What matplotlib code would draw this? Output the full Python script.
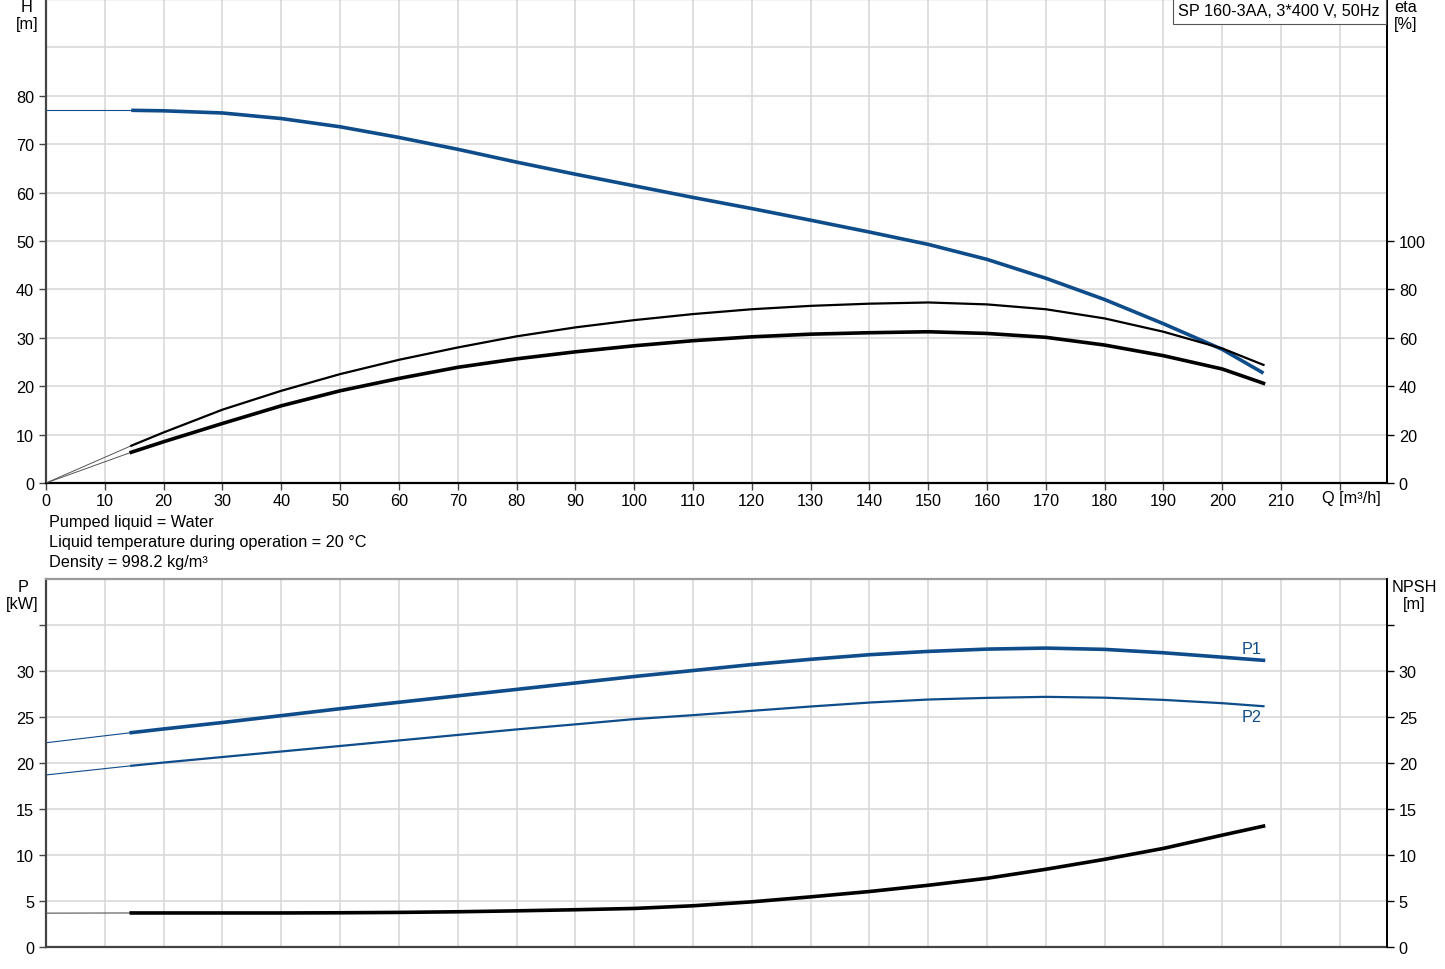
import matplotlib
matplotlib.use("Agg")
import matplotlib.pyplot as plt

plt.rcParams['font.family'] = ['Liberation Sans', 'DejaVu Sans']

# ---- data ----
q = [14.5, 20, 30, 40, 50, 60, 70, 80, 90, 100, 110, 120, 130, 140, 150, 160, 170, 180, 190, 200, 207]
head = [77.0, 76.9, 76.45, 75.3, 73.6, 71.4, 68.95, 66.3, 63.8, 61.4, 59.0, 56.7, 54.3, 51.85, 49.3, 46.2, 42.3, 37.9, 32.9, 27.6, 22.7]
eta_upper = [15.4, 20.9, 30.3, 38.1, 45.0, 50.9, 56.0, 60.6, 64.3, 67.3, 69.8, 71.8, 73.2, 74.1, 74.6, 73.8, 71.8, 68.0, 62.5, 55.6, 48.8]
eta_lower = [12.7, 17.05, 24.6, 31.9, 38.1, 43.2, 47.8, 51.3, 54.2, 56.7, 58.8, 60.4, 61.5, 62.1, 62.5, 61.8, 60.2, 57.0, 52.6, 47.1, 41.2]
p1 = [23.3, 23.7, 24.4, 25.15, 25.9, 26.6, 27.3, 28.0, 28.7, 29.4, 30.05, 30.7, 31.27, 31.77, 32.13, 32.38, 32.49, 32.35, 31.98, 31.5, 31.16]
p2 = [19.7, 20.05, 20.65, 21.25, 21.85, 22.45, 23.05, 23.65, 24.2, 24.77, 25.2, 25.67, 26.14, 26.57, 26.9, 27.08, 27.19, 27.1, 26.86, 26.5, 26.17]
npsh = [3.7, 3.7, 3.7, 3.7, 3.72, 3.76, 3.83, 3.93, 4.05, 4.19, 4.48, 4.91, 5.45, 6.03, 6.71, 7.47, 8.45, 9.53, 10.72, 12.16, 13.14]
ext_q = [0, 14.5]
head_ext = [77.0, 77.0]
eta_upper_ext = [0, 15.4]
eta_lower_ext = [0, 12.7]
p1_ext = [22.2, 23.3]
p2_ext = [18.7, 19.7]
npsh_ext = [3.68, 3.7]

x_ticks = list(range(0, 230, 10))
x_labels = [str(v) for v in range(0, 220, 10)] + ['']
q_label = 'Q [m³/h]'
h_ticks = list(range(0, 90, 10))
eta_ticks = list(range(0, 120, 20))
p_ticks = list(range(0, 40, 5))
p_labels = [str(v) for v in range(0, 35, 5)] + ['']

title_text = 'SP 160-3AA, 3*400 V, 50Hz'
info_lines = ['Pumped liquid = Water', 'Liquid temperature during operation = 20 °C', 'Density = 998.2 kg/m³']

BLUE = '#0f4c8a'
GRID = '#d9d9d9'
FS = 11.7

W, H = 1445, 970
fig = plt.figure(figsize=(W / 100, H / 100), dpi=100)
L = 46 / W
R = 1387 / W
ax1 = fig.add_axes([L, 1 - 484 / H, R - L, 484 / H])
ax2 = fig.add_axes([L, 1 - 948 / H, R - L, (948 - 580) / H])


def px(xp, yp):
    return xp / W, 1 - yp / H


for ax in (ax1, ax2):
    ax.set_xlim(0, 228)
    ax.set_xticks(x_ticks)
    ax.grid(True, color=GRID, linewidth=1.2)
    ax.set_axisbelow(True)
    ax.spines['left'].set_color('#444444')
    ax.spines['left'].set_linewidth(1.6)
    ax.spines['right'].set_color('black')
    ax.spines['right'].set_linewidth(1.4)
    ax.spines['top'].set_color('#999999')
    ax.spines['top'].set_linewidth(1.6)
    ax.tick_params(labelsize=FS, length=5, width=1.0, color='#444444')

# ---- top axes ----
ax1.set_ylim(0, 100)
ax1.set_yticks(h_ticks)
ax1.set_xticklabels(x_labels)
ax1.spines['bottom'].set_color('black')
ax1.spines['bottom'].set_linewidth(1.6)
ax1.tick_params(axis='x', pad=2)
ax1.axhline(90, color=GRID, linewidth=1.2, zorder=0)

ax1.plot(ext_q, head_ext, color=BLUE, lw=0.8)
ax1.plot(q, head, color=BLUE, lw=2.6, solid_capstyle='butt', solid_joinstyle='round')

ax1e = ax1.twinx()
ax1e.set_ylim(0, 200)
ax1e.set_yticks(eta_ticks)
ax1e.tick_params(labelsize=FS, length=5, width=1.0)
for s in ('left', 'top', 'bottom'):
    ax1e.spines[s].set_visible(False)
ax1e.spines['right'].set_linewidth(1.4)
ax1e.plot(ext_q, eta_upper_ext, color='#555555', lw=0.7)
ax1e.plot(ext_q, eta_lower_ext, color='#555555', lw=0.7)
ax1e.plot(q, eta_upper, color='black', lw=1.6, solid_joinstyle='round')
ax1e.plot(q, eta_lower, color='black', lw=2.6, solid_joinstyle='round')

fig.text(*px(27, 8), 'H', ha='center', va='center', fontsize=FS)
fig.text(*px(27, 25), '[m]', ha='center', va='center', fontsize=FS)
fig.text(*px(1406, 8), 'eta', ha='center', va='center', fontsize=FS)
fig.text(*px(1406, 25), '[%]', ha='center', va='center', fontsize=FS)
fig.text(*px(1351, 499), q_label, ha='center', va='center', fontsize=FS)

fig.text(*px(1380, 12), title_text, ha='right', va='center', fontsize=FS, zorder=10,
         bbox=dict(boxstyle='square,pad=0.35', facecolor='white', edgecolor='#555555', linewidth=0.8))

for i, line in enumerate(info_lines):
    fig.text(*px(49, 523 + 19.5 * i), line, ha='left', va='center', fontsize=FS)

# ---- bottom axes ----
ax2.set_ylim(0, 40)
ax2.set_yticks(p_ticks)
ax2.set_yticklabels(p_labels)
ax2.tick_params(axis='x', length=0, labelbottom=False)
ax2.spines['bottom'].set_color('#444444')
ax2.spines['bottom'].set_linewidth(1.6)

ax2.plot(ext_q, p1_ext, color=BLUE, lw=0.8)
ax2.plot(ext_q, p2_ext, color=BLUE, lw=0.8)
ax2.plot(q, p1, color=BLUE, lw=2.6, solid_joinstyle='round')
ax2.plot(q, p2, color=BLUE, lw=1.6, solid_joinstyle='round')
fig.text(*px(1252, 650), 'P1', color=BLUE, fontsize=FS, ha='center', va='center')
fig.text(*px(1252, 717), 'P2', color=BLUE, fontsize=FS, ha='center', va='center')

ax2n = ax2.twinx()
ax2n.set_ylim(0, 40)
ax2n.set_yticks(p_ticks)
ax2n.set_yticklabels(p_labels)
ax2n.tick_params(labelsize=FS, length=5, width=1.0)
for s in ('left', 'top', 'bottom'):
    ax2n.spines[s].set_visible(False)
ax2n.spines['right'].set_linewidth(1.4)
ax2n.plot(ext_q, npsh_ext, color='#555555', lw=0.8)
ax2n.plot(q, npsh, color='black', lw=2.6, solid_joinstyle='round')

fig.text(*px(23, 588), 'P', ha='center', va='center', fontsize=FS)
fig.text(*px(22, 605), '[kW]', ha='center', va='center', fontsize=FS)
fig.text(*px(1414, 588), 'NPSH', ha='center', va='center', fontsize=FS)
fig.text(*px(1414, 605), '[m]', ha='center', va='center', fontsize=FS)

fig.savefig('out.png', dpi=100, facecolor='white')
